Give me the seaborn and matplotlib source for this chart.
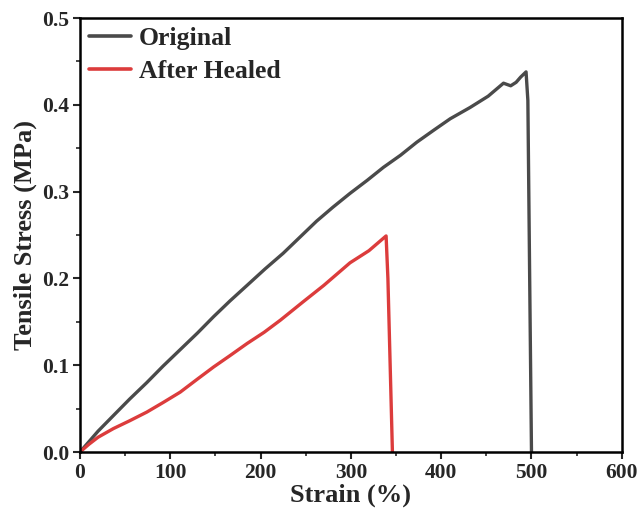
import matplotlib
matplotlib.use('Agg')
import matplotlib.pyplot as plt
import seaborn as sns
import pandas as pd
from matplotlib.ticker import MultipleLocator

# Original sample
orig_strain = [0, 10, 20, 37, 55, 74, 92, 111, 130, 148, 166, 185, 205, 225, 244,
               262, 280, 299, 318, 336, 355, 373, 392, 410, 432, 452, 469, 477,
               483, 488, 494, 496, 498, 500]
orig_stress = [0, 0.012, 0.024, 0.042, 0.061, 0.080, 0.099, 0.118, 0.137, 0.156,
               0.174, 0.192, 0.211, 0.229, 0.248, 0.266, 0.282, 0.298, 0.313,
               0.328, 0.342, 0.357, 0.371, 0.384, 0.397, 0.410, 0.425, 0.422,
               0.426, 0.432, 0.438, 0.405, 0.2, 0.0]

# Healed sample
heal_strain = [0, 10, 20, 37, 55, 74, 92, 111, 130, 148, 166, 185, 204, 222, 247,
               270, 299, 320, 339, 341, 344, 346]
heal_stress = [0, 0.009, 0.017, 0.027, 0.036, 0.046, 0.057, 0.069, 0.084, 0.098,
               0.111, 0.125, 0.138, 0.152, 0.173, 0.192, 0.218, 0.232, 0.249,
               0.2, 0.08, 0.0]

df = pd.concat([
    pd.DataFrame({'Strain': orig_strain, 'Stress': orig_stress, 'Sample': 'Original'}),
    pd.DataFrame({'Strain': heal_strain, 'Stress': heal_stress, 'Sample': 'After Healed'}),
])

sns.set_style('ticks')
plt.rcParams['font.family'] = ['Liberation Serif', 'DejaVu Serif']
plt.rcParams['font.weight'] = 'bold'

fig = plt.figure(figsize=(6.43, 5.17), dpi=100)
ax = fig.add_axes([0.1244, 0.1257, 0.8426, 0.8393])

sns.lineplot(data=df, x='Strain', y='Stress', hue='Sample', sort=False,
             palette={'Original': '#4a4a4a', 'After Healed': '#dc3c3c'},
             linewidth=2.4, ax=ax, estimator=None)

ax.set_xlim(0, 600)
ax.set_ylim(0, 0.5)
ax.xaxis.set_major_locator(MultipleLocator(100))
ax.xaxis.set_minor_locator(MultipleLocator(50))
ax.yaxis.set_major_locator(MultipleLocator(0.1))
ax.yaxis.set_minor_locator(MultipleLocator(0.05))
ax.tick_params(which='major', direction='out', length=5, width=1.5, labelsize=15.5, pad=3)
ax.tick_params(which='minor', direction='out', length=3, width=1.2)
for lab in ax.get_xticklabels() + ax.get_yticklabels():
    lab.set_fontweight('bold')
for s in ax.spines.values():
    s.set_linewidth(1.8)
    s.set_color('black')

ax.set_xlabel('Strain (%)', fontsize=19, fontweight='bold', labelpad=0)
ax.set_ylabel('Tensile Stress (MPa)', fontsize=19, fontweight='bold', labelpad=3)

leg = ax.legend(loc='upper left', frameon=False, fontsize=18.5, handlelength=1.65,
                handletextpad=0.3, borderaxespad=0.05, borderpad=0.3, labelspacing=0.4)
for t in leg.get_texts():
    t.set_fontweight('bold')
for h in leg.get_lines():
    h.set_linewidth(2.6)

fig.savefig('out.png', dpi=100)
